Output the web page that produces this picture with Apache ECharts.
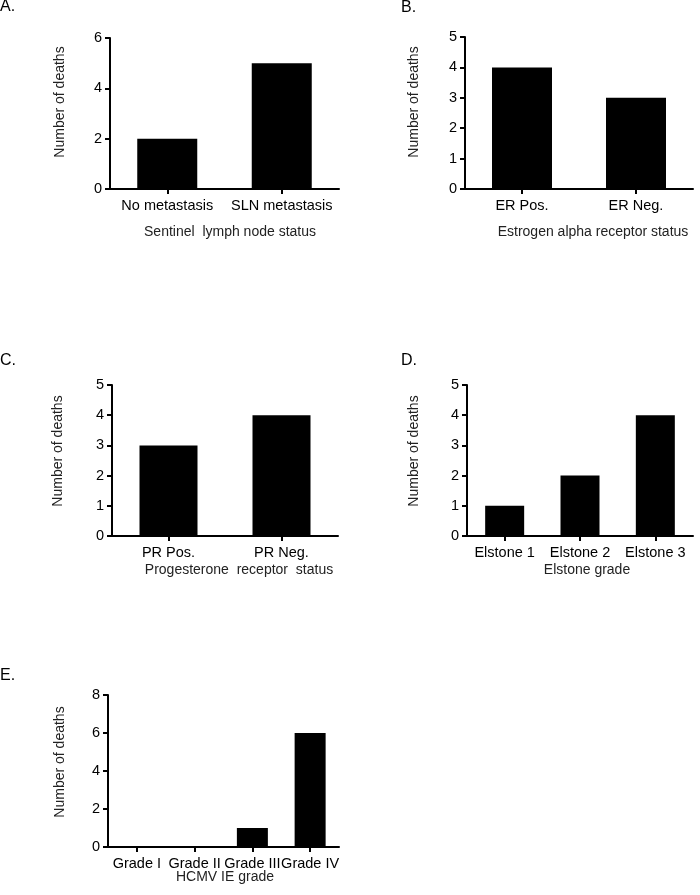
<!DOCTYPE html>
<html><head><meta charset="utf-8">
<script src="https://cdn.jsdelivr.net/npm/echarts@6/dist/echarts.min.js"></script>
<style>html,body{margin:0;padding:0;background:#fff}#c{width:700px;height:895px}</style>
</head><body><div id="c"></div>
<script>
// Data
const catsA = ['No metastasis', 'SLN metastasis'];
const valsA = [2, 5];
const ticksA = [0, 2, 4, 6];
const catsB = ['ER Pos.', 'ER Neg.'];
const valsB = [4, 3];
const ticksB = [0, 1, 2, 3, 4, 5];
const catsC = ['PR Pos.', 'PR Neg.'];
const valsC = [3, 4];
const ticksC = [0, 1, 2, 3, 4, 5];
const catsD = ['Elstone 1', 'Elstone 2', 'Elstone 3'];
const valsD = [1, 2, 4];
const ticksD = [0, 1, 2, 3, 4, 5];
const catsE = ['Grade I', 'Grade II', 'Grade III', 'Grade IV'];
const valsE = [0, 0, 1, 6];
const ticksE = [0, 2, 4, 6, 8];
const panelLetters = ['A.', 'B.', 'C.', 'D.', 'E.'];
const xTitles = ['Sentinel  lymph node status', 'Estrogen alpha receptor status', 'Progesterone  receptor  status', 'Elstone grade', 'HCMV IE grade'];
const yTitle = 'Number of deaths';

const panels = [
  {cats: catsA, vals: valsA, ticks: ticksA, grid: {left: 110, top: 38, width: 229, height: 151}, bw: 60, letter: [0, 7], xt: [230, 225], yt: [60, 102]},
  {cats: catsB, vals: valsB, ticks: ticksB, grid: {left: 465, top: 37, width: 228, height: 152}, bw: 60, letter: [401, 8], xt: [593, 225], yt: [414, 102]},
  {cats: catsC, vals: valsC, ticks: ticksC, grid: {left: 112, top: 385, width: 226, height: 151}, bw: 58, letter: [0, 361], xt: [239, 563], yt: [58, 451]},
  {cats: catsD, vals: valsD, ticks: ticksD, grid: {left: 467, top: 385, width: 226, height: 151}, bw: 39, letter: [401, 361], xt: [587, 563], yt: [414, 451]},
  {cats: catsE, vals: valsE, ticks: ticksE, grid: {left: 108, top: 695, width: 231, height: 152}, bw: 31, letter: [0, 676], xt: [225, 870], yt: [60, 762]}
];

const FONT = '"Liberation Sans", Arial, sans-serif';
const grid = [], xAxis = [], yAxis = [], series = [], graphic = [];
panels.forEach((p, i) => {
  grid.push(Object.assign({containLabel: false}, p.grid));
  xAxis.push({
    type: 'category', gridIndex: i, data: p.cats,
    axisLine: {lineStyle: {color: '#000', width: 2}},
    axisTick: {show: true, alignWithLabel: true, length: 5, lineStyle: {color: '#000', width: 2}},
    axisLabel: {color: '#000', fontFamily: FONT, fontSize: 14.5, margin: 9, interval: 0},
    splitLine: {show: false}
  });
  const t = p.ticks;
  yAxis.push({
    type: 'value', gridIndex: i, min: t[0], max: t[t.length - 1], interval: t[1] - t[0],
    axisLine: {show: true, lineStyle: {color: '#000', width: 2}},
    axisTick: {show: true, length: 5, lineStyle: {color: '#000', width: 2}},
    axisLabel: {color: '#000', fontFamily: FONT, fontSize: 14.5, margin: 8},
    splitLine: {show: false}
  });
  series.push({
    type: 'bar', xAxisIndex: i, yAxisIndex: i, data: p.vals, barWidth: p.bw,
    itemStyle: {color: '#000'}, silent: true, animation: false
  });
  graphic.push({type: 'text', x: p.letter[0], y: p.letter[1],
    style: {text: panelLetters[i], fill: '#000', font: '16px ' + FONT, align: 'left', verticalAlign: 'middle'}});
  graphic.push({type: 'text', x: p.xt[0], y: p.xt[1],
    style: {text: xTitles[i], fill: '#222', font: '14px ' + FONT, align: 'center', verticalAlign: 'top'}});
  graphic.push({type: 'text', x: p.yt[0], y: p.yt[1], rotation: Math.PI / 2,
    style: {text: yTitle, fill: '#222', font: '14px ' + FONT, align: 'center', verticalAlign: 'middle'}});
});

const chart = echarts.init(document.getElementById('c'), null, {renderer: 'canvas'});
chart.setOption({animation: false, backgroundColor: '#fff', grid, xAxis, yAxis, series, graphic});
</script>
</body></html>
